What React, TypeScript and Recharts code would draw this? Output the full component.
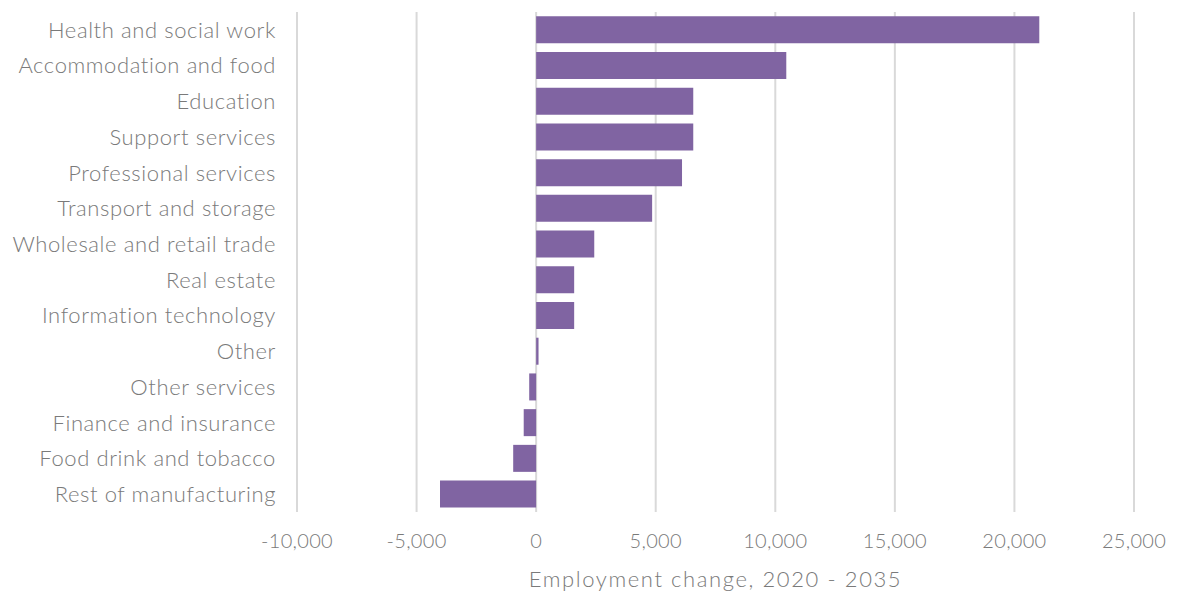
import { Bar, BarChart, CartesianGrid, Label, XAxis, YAxis } from "recharts";

const sectors = [
	"Health and social work",
	"Accommodation and food",
	"Education",
	"Support services",
	"Professional services",
	"Transport and storage",
	"Wholesale and retail trade",
	"Real estate",
	"Information technology",
	"Other",
	"Other services",
	"Finance and insurance",
	"Food drink and tobacco",
	"Rest of manufacturing",
];

const employmentChange = [
	21040, 10460, 6570, 6570, 6100, 4850, 2430, 1590, 1590, 100, -290, -520, -960, -4020,
];

const xTicks = [-10000, -5000, 0, 5000, 10000, 15000, 20000, 25000];

const data = sectors.map((name, i) => ({ name, value: employmentChange[i] }));

const textColor = "#7a7a7a";
const fontFamily = "Lato, 'Open Sans', sans-serif";

export default function App() {
	return (
		<div style={{ position: "absolute", left: 0, top: 0, background: "#fff" }}>
			<BarChart
				width={1183}
				height={591}
				data={data}
				layout="vertical"
				margin={{ top: 12, right: 49, left: 0, bottom: 0 }}
				barCategoryGap="12%"
			>
				<CartesianGrid
					horizontal={false}
					vertical={true}
					stroke="#d9d9d9"
					strokeWidth={2}
				/>
				<XAxis
					type="number"
					domain={[-10000, 25000]}
					ticks={xTicks}
					tickFormatter={(v: number) => v.toLocaleString("en-US")}
					axisLine={false}
					tickLine={false}
					tickSize={0}
					tickMargin={22}
					height={79}
					tick={{ fill: textColor, fontSize: 20, fontFamily, fontWeight: 300, letterSpacing: 0.3 }}
				>
					<Label
						value="Employment  change, 2020 - 2035"
						position="insideBottom"
						offset={4}
						style={{ fill: textColor, fontSize: 22, fontFamily, fontWeight: 300, letterSpacing: 1.6 }}
					/>
				</XAxis>
				<YAxis
					type="category"
					dataKey="name"
					width={297}
					axisLine={false}
					tickLine={false}
					tickSize={0}
					tickMargin={21}
					interval={0}
					tick={{ fill: textColor, fontSize: 22, fontFamily, fontWeight: 300, letterSpacing: 0.6 }}
				/>
				<Bar dataKey="value" fill="#8064a2" isAnimationActive={false} />
			</BarChart>
		</div>
	);
}
